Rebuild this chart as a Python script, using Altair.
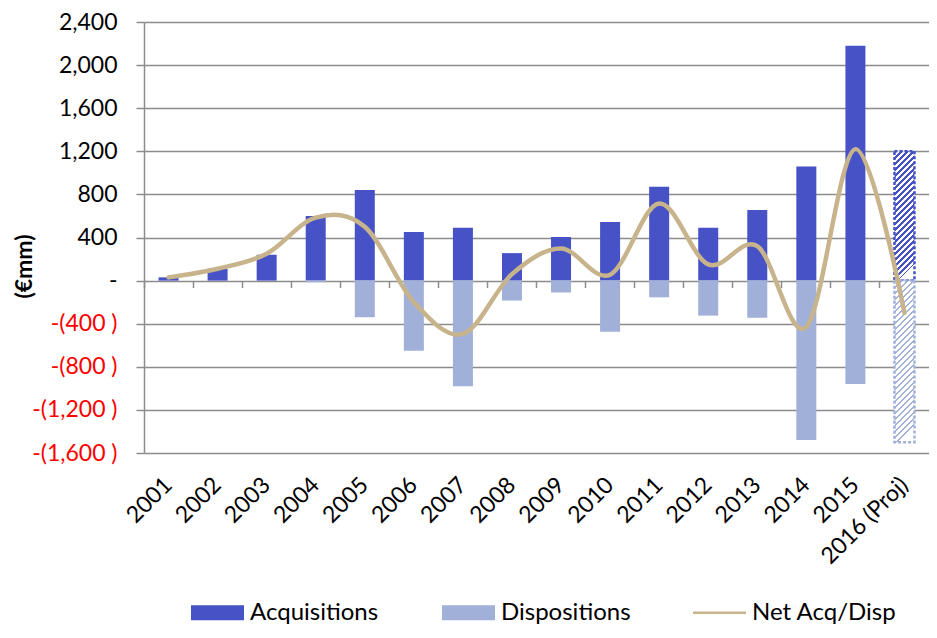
import altair as alt
import pandas as pd

# ---------------- data ----------------
years = ["2001", "2002", "2003", "2004", "2005", "2006", "2007", "2008",
         "2009", "2010", "2011", "2012", "2013", "2014", "2015", "2016 (Proj)"]
acquisitions = [30, 110, 240, 600, 840, 450, 490, 255, 405, 545, 870, 490, 655, 1060, 2180, 1200]
dispositions = [0, 0, 0, -15, -340, -650, -980, -185, -110, -475, -155, -325, -345, -1480, -960, -1500]
net_acq_disp = [30, 110, 250, 585, 500, -200, -495, 60, 298, 55, 715, 150, 320, -430, 1220, -300]
series_names = ["Acquisitions", "Dispositions", "Net Acq/Disp"]
y_ticks = [-1600, -1200, -800, -400, 0, 400, 800, 1200, 1600, 2000, 2400]
PROJ = "2016 (Proj)"

rows = []
for i, yr in enumerate(years):
    rows.append({"year": yr, "series": "Acquisitions", "value": acquisitions[i]})
    rows.append({"year": yr, "series": "Dispositions", "value": dispositions[i]})
    rows.append({"year": yr, "series": "Net Acq/Disp", "value": net_acq_disp[i]})
df = pd.DataFrame(rows)

# ---------------- style ----------------
ACQ = "#4652C6"
DISP = "#A0B0D8"
NET = "#C8B48C"
GRID = "#8C8C8C"
FONT = "Lato"
PLOT_W, PLOT_H = 785, 431
Y_MIN, Y_MAX = y_ticks[0], y_ticks[-1]
PX = PLOT_H / (Y_MAX - Y_MIN)
BAR_W = 20


def hatch(color, w, h, period=6.0, frac=0.45):
    k = h / (w * w + h * h)
    dt = period * k
    stops = []
    t = 0.0
    while t < 1.0:
        a = min(t + dt * frac, 1.0)
        b = min(t + dt, 1.0)
        stops += [(t, color), (a, color), (a, "#FFFFFF"), (b, "#FFFFFF")]
        t += dt
    return alt.LinearGradient(
        gradient="linear",
        stops=[alt.GradientStop(offset=o, color=c) for o, c in stops],
        x1=0, y1=0, x2=w / h, y2=1,
    )


color_scale = alt.Scale(domain=series_names, range=[ACQ, DISP, NET])
legend = alt.Legend(
    title=None, orient="none", legendX=47, legendY=564, direction="horizontal",
    columns=3, gridAlign="all", columnPadding=47, padding=0,
    symbolSize=53 * 53, symbolStrokeWidth=0, symbolOpacity=1,
    symbolType=alt.ExprRef(expr="datum.value === 'Net Acq/Disp' ? 'M-1,-0.045H1V0.045H-1Z' : 'M-1,-0.28H1V0.28H-1Z'"),
    labelFont=FONT, labelFontSize=24, labelColor="#000000", labelOffset=6, labelLimit=300,
)

x_scale = alt.Scale(domain=years, paddingInner=0, paddingOuter=0)
y_scale = alt.Scale(domain=[Y_MIN, Y_MAX], nice=False, zero=False)

label_expr = ("datum.value > 0 ? format(datum.value, ',') + '\u00a0' : "
              "(datum.value == 0 ? '-' : '-(' + format(-datum.value, ',') + ' )')")

y_axis = alt.Axis(
    values=y_ticks, labelExpr=label_expr, title="(€mm)",
    titleFont=FONT, titleFontSize=23, titleFontWeight="bold", titleColor="#000000",
    titleX=-120, titleY=244, titleAngle=270, titleAlign="center", titleBaseline="middle",
    labelFont=FONT, labelFontSize=23, labelPadding=19,
    labelColor={"condition": {"test": "datum.value < 0", "value": "#FF0000"}, "value": "#000000"},
    grid=True, gridColor=GRID, gridWidth=1.5,
    domain=True, domainColor=GRID, domainWidth=1.5,
    ticks=True, tickColor=GRID, tickWidth=1.5, tickSize=8,
)

x_label_axis = alt.Axis(
    title=None, labelAngle=315, labelAlign="right", labelBaseline="middle",
    labelFont=FONT, labelFontSize=23, labelColor="#000000", labelPadding=28,
    labelOverlap=False, labelBound=False, ticks=False, domain=False, grid=False,
)

x_zero_axis = alt.Axis(
    title=None, orient="bottom", offset=-(0 - Y_MIN) * PX, labels=False, domain=False,
    ticks=True, tickSize=7, tickColor=GRID, tickWidth=1.5, bandPosition=0, grid=False,
)

base = alt.Chart(df)
Y = alt.Y("value:Q", scale=y_scale, axis=y_axis, stack=None)

bars = base.transform_filter(
    f"datum.series != 'Net Acq/Disp' && datum.year != '{PROJ}'"
).mark_bar(size=BAR_W).encode(
    x=alt.X("year:N", scale=x_scale, axis=x_label_axis),
    y=Y,
    color=alt.Color("series:N", scale=color_scale, legend=legend),
)

h_pos = acquisitions[-1] * PX
h_neg = -dispositions[-1] * PX

proj_pos = base.transform_filter(
    f"datum.series == 'Acquisitions' && datum.year == '{PROJ}'"
).mark_bar(size=BAR_W, fill=hatch(ACQ, BAR_W, h_pos), stroke=ACQ,
           strokeDash=[3, 2], strokeWidth=2.5).encode(
    x=alt.X("year:N", scale=x_scale, axis=x_zero_axis),
    y=Y,
)

proj_neg = base.transform_filter(
    f"datum.series == 'Dispositions' && datum.year == '{PROJ}'"
).mark_bar(size=BAR_W, fill=hatch(DISP, BAR_W, h_neg), stroke=DISP,
           strokeDash=[3, 2], strokeWidth=2.5).encode(
    x=alt.X("year:N", scale=x_scale, axis=None),
    y=Y,
)

line = base.transform_filter("datum.series == 'Net Acq/Disp'").mark_line(
    interpolate="cardinal", strokeWidth=4.5, strokeCap="round"
).encode(
    x=alt.X("year:N", scale=x_scale, axis=None),
    y=Y,
    color=alt.Color("series:N", scale=color_scale, legend=legend),
)

chart = alt.layer(bars, proj_pos, proj_neg, line).resolve_axis(
    x="independent", y="shared"
).properties(
    width=PLOT_W, height=PLOT_H,
    padding={"left": 136, "top": 14, "right": 0, "bottom": 171},
    autosize=alt.AutoSizeParams(type="none"),
    background="#FFFFFF",
).configure_view(strokeWidth=0)

chart.save("out.html", embed_options={"renderer": "svg", "actions": False})
